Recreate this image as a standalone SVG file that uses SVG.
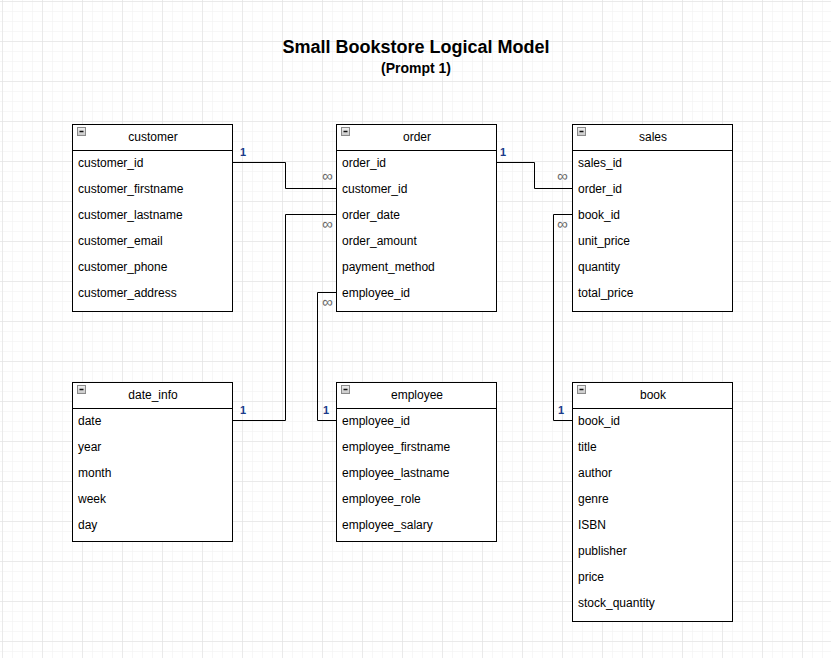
<svg xmlns="http://www.w3.org/2000/svg" width="831" height="658" viewBox="0 0 831 658">
<defs>
<pattern id="minor" x="2" y="1" width="10" height="10" patternUnits="userSpaceOnUse">
<path d="M0 0H10M0 0V10" fill="none" stroke="#efefef" stroke-width="1"/>
</pattern>
<pattern id="major" x="2" y="1" width="40" height="40" patternUnits="userSpaceOnUse">
<path d="M0 0H40M0 0V40" fill="none" stroke="#dedede" stroke-width="1"/>
</pattern>
<linearGradient id="ig" x1="0" y1="0" x2="0" y2="1">
<stop offset="0" stop-color="#f2f2f2"/>
<stop offset="1" stop-color="#c8c8c8"/>
</linearGradient>
<g id="minus">
<rect x="0" y="0" width="8" height="8" fill="url(#ig)" stroke="#8a8a8a" stroke-width="1"/>
<path d="M2 4H6" stroke="#111" stroke-width="1.5"/>
</g>
</defs>
<style>
text{font-family:"Liberation Sans",Arial,sans-serif;fill:#000}
.t{font-size:12px}
.h{font-size:12px;text-anchor:middle}
.box{fill:#fff;stroke:#000;stroke-width:1}
.ln{fill:none;stroke:#000;stroke-width:1}
.one{font-size:11px;font-weight:bold;fill:#1a3a8a}
.many{font-size:15px;fill:#666}
</style>
<rect width="831" height="658" fill="#fff"/>
<rect width="831" height="658" fill="url(#minor)"/>
<rect width="831" height="658" fill="url(#major)"/>

<g id="title">
<text x="416" y="53" style="font-size:18px;font-weight:bold;text-anchor:middle">Small Bookstore Logical Model</text>
<text x="416" y="73" style="font-size:14px;font-weight:bold;text-anchor:middle">(Prompt 1)</text>
</g>

<g id="connectors">
<path class="ln" d="M232.5 162.5H285.5V188.5H337"/>
<path class="ln" d="M232.5 420.5H285.5V214.5H337"/>
<path class="ln" d="M337 292.5H317.5V420.5H337"/>
<path class="ln" d="M496.5 162.5H534.5V188.5H573"/>
<path class="ln" d="M573 214.5H553.5V420.5H573"/>
<text class="one" x="240" y="156">1</text>
<text class="many" x="322" y="181">∞</text>
<text class="one" x="240" y="414">1</text>
<text class="many" x="322" y="229">∞</text>
<text class="many" x="322" y="307">∞</text>
<text class="one" x="323" y="414">1</text>
<text class="one" x="500" y="156">1</text>
<text class="many" x="557" y="181">∞</text>
<text class="many" x="557" y="229">∞</text>
<text class="one" x="558" y="414">1</text>
</g>

<g id="customer">
<rect class="box" x="72.5" y="124.5" width="160" height="187"/>
<path class="ln" d="M72.5 150.5H232.5"/>
<use href="#minus" x="77.5" y="127.5"/>
<text class="h" x="153" y="141">customer</text>
<text class="t" x="78" y="167">customer_id</text>
<text class="t" x="78" y="193">customer_firstname</text>
<text class="t" x="78" y="219">customer_lastname</text>
<text class="t" x="78" y="245">customer_email</text>
<text class="t" x="78" y="271">customer_phone</text>
<text class="t" x="78" y="297">customer_address</text>
</g>

<g id="order">
<rect class="box" x="336.5" y="124.5" width="160" height="187"/>
<path class="ln" d="M336.5 150.5H496.5"/>
<use href="#minus" x="341.5" y="127.5"/>
<text class="h" x="417" y="141">order</text>
<text class="t" x="342" y="167">order_id</text>
<text class="t" x="342" y="193">customer_id</text>
<text class="t" x="342" y="219">order_date</text>
<text class="t" x="342" y="245">order_amount</text>
<text class="t" x="342" y="271">payment_method</text>
<text class="t" x="342" y="297">employee_id</text>
</g>

<g id="sales">
<rect class="box" x="572.5" y="124.5" width="160" height="187"/>
<path class="ln" d="M572.5 150.5H732.5"/>
<use href="#minus" x="577.5" y="127.5"/>
<text class="h" x="653" y="141">sales</text>
<text class="t" x="578" y="167">sales_id</text>
<text class="t" x="578" y="193">order_id</text>
<text class="t" x="578" y="219">book_id</text>
<text class="t" x="578" y="245">unit_price</text>
<text class="t" x="578" y="271">quantity</text>
<text class="t" x="578" y="297">total_price</text>
</g>

<g id="date_info">
<rect class="box" x="72.5" y="382.5" width="160" height="159"/>
<path class="ln" d="M72.5 408.5H232.5"/>
<use href="#minus" x="77.5" y="385.5"/>
<text class="h" x="153" y="399">date_info</text>
<text class="t" x="78" y="425">date</text>
<text class="t" x="78" y="451">year</text>
<text class="t" x="78" y="477">month</text>
<text class="t" x="78" y="503">week</text>
<text class="t" x="78" y="529">day</text>
</g>

<g id="employee">
<rect class="box" x="336.5" y="382.5" width="160" height="159"/>
<path class="ln" d="M336.5 408.5H496.5"/>
<use href="#minus" x="341.5" y="385.5"/>
<text class="h" x="417" y="399">employee</text>
<text class="t" x="342" y="425">employee_id</text>
<text class="t" x="342" y="451">employee_firstname</text>
<text class="t" x="342" y="477">employee_lastname</text>
<text class="t" x="342" y="503">employee_role</text>
<text class="t" x="342" y="529">employee_salary</text>
</g>

<g id="book">
<rect class="box" x="572.5" y="382.5" width="160" height="239"/>
<path class="ln" d="M572.5 408.5H732.5"/>
<use href="#minus" x="577.5" y="385.5"/>
<text class="h" x="653" y="399">book</text>
<text class="t" x="578" y="425">book_id</text>
<text class="t" x="578" y="451">title</text>
<text class="t" x="578" y="477">author</text>
<text class="t" x="578" y="503">genre</text>
<text class="t" x="578" y="529">ISBN</text>
<text class="t" x="578" y="555">publisher</text>
<text class="t" x="578" y="581">price</text>
<text class="t" x="578" y="607">stock_quantity</text>
</g>
</svg>
